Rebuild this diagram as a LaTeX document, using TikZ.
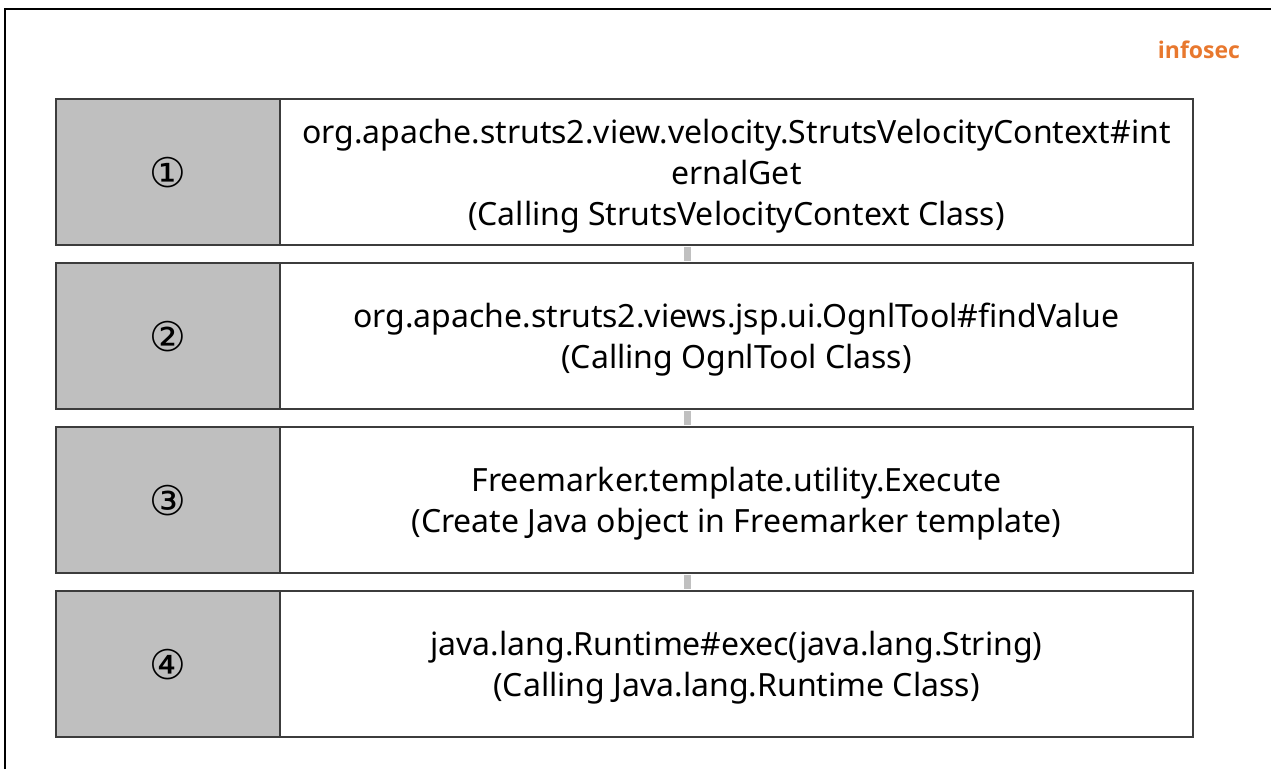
\documentclass[tikz,border=0pt]{standalone}
\usepackage{fontspec}
\setmainfont{Noto Sans}
\newfontfamily\circfont{DejaVu Sans}
\newfontfamily\brandfont{Open Sans}
\definecolor{stepgray}{HTML}{BFBFBF}
\definecolor{edgegray}{HTML}{3C3C3C}
\definecolor{linkgray}{HTML}{C0C0C0}
\definecolor{brand}{HTML}{E8782E}
\begin{document}
\begin{tikzpicture}[x=1pt,y=1pt,
  numbox/.style={draw=edgegray, line width=2pt, fill=stepgray, minimum width=224pt, minimum height=146pt, inner sep=0pt, anchor=north west},
  textbox/.style={draw=edgegray, line width=2pt, fill=white, minimum width=913pt, minimum height=146pt, inner sep=0pt, anchor=north west},
  steptext/.style={align=center, inner sep=0pt, yshift=-4pt, font=\fontsize{32}{41}\selectfont},
  numlabel/.style={font=\circfont\fontsize{41}{44}\selectfont, yshift=-1pt},
  link/.style={draw=linkgray, line width=7pt}
]
\useasboundingbox (0,0) rectangle (1271,769);
% page frame: top and left rules
\draw[line width=2pt] (5,0) -- (5,760) -- (1271,760);
\node[font=\brandfont\bfseries\fontsize{23}{26}\selectfont, text=brand] (brand) at (1199,719) {infosec};

% the four steps: number cell and description cell
\node[numbox] (n1) at (55,671) {};
\node[textbox] (t1) at (279,671) {};
\node[numbox] (n2) at (55,507) {};
\node[textbox] (t2) at (279,507) {};
\node[numbox] (n3) at (55,343) {};
\node[textbox] (t3) at (279,343) {};
\node[numbox] (n4) at (55,179) {};
\node[textbox] (t4) at (279,179) {};

\node[numlabel] (c1) at (n1.center) {①};
\node[numlabel] (c2) at (n2.center) {②};
\node[numlabel] (c3) at (n3.center) {③};
\node[numlabel] (c4) at (n4.center) {④};

\node[steptext] (d1) at (t1.center) {org.apache.struts2.view.velocity.StrutsVelocityContext\#int\\ernalGet\\(Calling StrutsVelocityContext Class)};
\node[steptext] (d2) at (t2.center) {org.apache.struts2.views.jsp.ui.OgnlTool\#findValue\\(Calling OgnlTool Class)};
\node[steptext] (d3) at (t3.center) {Freemarker.template.utility.Execute\\(Create Java object in Freemarker template)};
\node[steptext] (d4) at (t4.center) {java.lang.Runtime\#exec(java.lang.String)\\(Calling Java.lang.Runtime Class)};

% links between consecutive steps
\coordinate (lx) at (687.5,0);
\draw[link, shorten <=1pt, shorten >=1pt] (t1.south -| lx) -- (t2.north -| lx);
\draw[link, shorten <=1pt, shorten >=1pt] (t2.south -| lx) -- (t3.north -| lx);
\draw[link, shorten <=1pt, shorten >=1pt] (t3.south -| lx) -- (t4.north -| lx);
\end{tikzpicture}
\end{document}
